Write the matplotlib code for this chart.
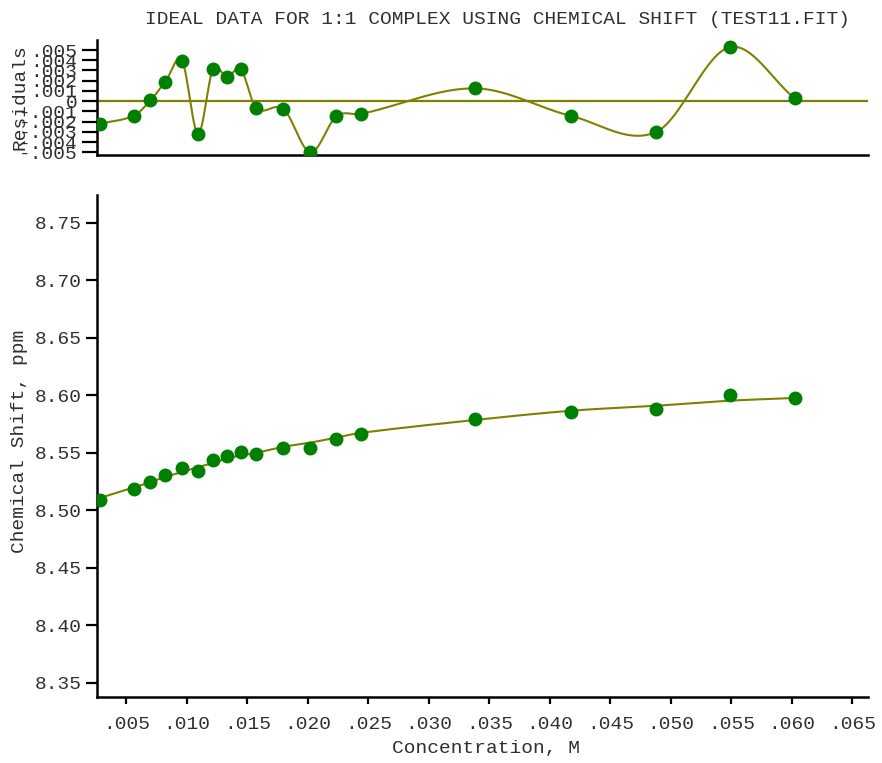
import numpy as np
import matplotlib
matplotlib.use("Agg")
import matplotlib.pyplot as plt

# Measured data: concentration (M), observed chemical shift (ppm), residuals (ppm)
conc = [0.00285, 0.00563, 0.00698, 0.00822, 0.00960, 0.01092, 0.01216,
        0.01331, 0.01445, 0.01571, 0.01798, 0.02021, 0.02236, 0.02436,
        0.03379, 0.04178, 0.04877, 0.05486, 0.06023]
shift = [8.5085, 8.5183, 8.5244, 8.5309, 8.5370, 8.5343, 8.5439,
         8.5474, 8.5505, 8.5491, 8.5543, 8.5537, 8.5616, 8.5659,
         8.5796, 8.5850, 8.5877, 8.6004, 8.5978]
resid = [-0.00219, -0.00141, 0.00007, 0.00190, 0.00396, -0.00318, 0.00315,
         0.00233, 0.00315, -0.00066, -0.00076, -0.00499, -0.00147, -0.00125,
         0.00125, -0.00145, -0.00302, 0.00528, 0.00029]

x_ticks = [0.005, 0.010, 0.015, 0.020, 0.025, 0.030, 0.035,
           0.040, 0.045, 0.050, 0.055, 0.060, 0.065]
x_ticklabels = [".005", ".010", ".015", ".020", ".025", ".030", ".035",
                ".040", ".045", ".050", ".055", ".060", ".065"]
y_ticks = [8.35, 8.40, 8.45, 8.50, 8.55, 8.60, 8.65, 8.70, 8.75]
r_ticks = [0.005, 0.004, 0.003, 0.002, 0.001, 0.0,
           -0.001, -0.002, -0.003, -0.004, -0.005]
r_ticklabels = [".005", ".004", ".003", ".002", ".001", "0",
                "-.001", "-.002", "-.003", "-.004", "-.005"]

TITLE = "IDEAL DATA FOR 1:1 COMPLEX USING CHEMICAL SHIFT (TEST11.FIT)"

GREEN = "#008000"
OLIVE = "#808000"
TXT = "#303030"
FONT = "Liberation Mono"
FS = 14


def smooth_curve(x, y, per_seg=60):
    """Cardinal (Catmull-Rom style) Hermite curve through (x, y)."""
    x = np.asarray(x, float)
    y = np.asarray(y, float)
    m = len(x)
    slope = np.empty(m)
    slope[0] = (y[1] - y[0]) / (x[1] - x[0])
    slope[-1] = (y[-1] - y[-2]) / (x[-1] - x[-2])
    slope[1:-1] = (y[2:] - y[:-2]) / (x[2:] - x[:-2])
    xs_all, ys_all = [], []
    for i in range(m - 1):
        h = x[i + 1] - x[i]
        t = np.linspace(0, 1, per_seg, endpoint=(i == m - 2))
        h00 = 2 * t ** 3 - 3 * t ** 2 + 1
        h10 = t ** 3 - 2 * t ** 2 + t
        h01 = -2 * t ** 3 + 3 * t ** 2
        h11 = t ** 3 - t ** 2
        xs_all.append(x[i] + t * h)
        ys_all.append(h00 * y[i] + h10 * h * slope[i]
                      + h01 * y[i + 1] + h11 * h * slope[i + 1])
    return np.concatenate(xs_all), np.concatenate(ys_all)


fit = np.asarray(shift) - np.asarray(resid)

fig = plt.figure(figsize=(8.82, 7.63), dpi=100)
fig.patch.set_facecolor("white")

W, H = 882.0, 763.0
ax_r = fig.add_axes([97 / W, 1 - 155 / H, (868 - 97) / W, (155 - 40) / H])
ax = fig.add_axes([97 / W, 1 - 697 / H, (868 - 97) / W, (697 - 195) / H])

xlim = (0.00257, 0.0663)

# Residuals panel
ax_r.axhline(0, color=OLIVE, lw=1.6, zorder=1)
xs, ys = smooth_curve(conc, resid)
ax_r.plot(xs, ys, color=OLIVE, lw=1.5, zorder=2)
ax_r.plot(conc, resid, "o", color=GREEN, ms=9, mec=GREEN, zorder=3)
ax_r.set_xlim(*xlim)
ax_r.set_ylim(-0.00526, 0.00598)
ax_r.set_xticks([])
ax_r.set_yticks(r_ticks)
ax_r.set_yticklabels(r_ticklabels, fontfamily=FONT, fontsize=FS, color=TXT)
ax_r.tick_params(axis="y", direction="out", length=11, width=1.6, pad=3)

# Chemical shift panel
xs, ys = smooth_curve(conc, fit)
ax.plot(xs, ys, color=OLIVE, lw=1.5, zorder=2)
ax.plot(conc, shift, "o", color=GREEN, ms=9, mec=GREEN, zorder=3)
ax.set_xlim(*xlim)
ax.set_ylim(8.3375, 8.774)
ax.set_xticks(x_ticks)
ax.set_xticklabels(x_ticklabels, fontfamily=FONT, fontsize=FS, color=TXT)
ax.set_yticks(y_ticks)
ax.set_yticklabels([f"{v:.2f}" for v in y_ticks], fontfamily=FONT,
                   fontsize=FS, color=TXT)
ax.tick_params(axis="y", direction="out", length=8, width=1.6, pad=3)
ax.tick_params(axis="x", direction="out", length=5, width=1.6, pad=9)

for a in (ax, ax_r):
    for side in ("top", "right"):
        a.spines[side].set_visible(False)
    for side in ("left", "bottom"):
        a.spines[side].set_linewidth(1.8)
        a.spines[side].set_color("black")
    a.set_facecolor("none")

fig.text(498 / W, 1 - 20 / H, TITLE, ha="center", va="center",
         fontfamily=FONT, fontsize=FS, color=TXT)
fig.text(20 / W, 1 - 97 / H, "Residuals", rotation=90, ha="center",
         va="center", fontfamily=FONT, fontsize=FS, color=TXT)
fig.text(20 / W, 1 - 441 / H, "Chemical Shift, ppm", rotation=90,
         ha="center", va="center", fontfamily=FONT, fontsize=FS, color=TXT)
fig.text(486 / W, 1 - 748 / H, "Concentration, M", ha="center", va="center",
         fontfamily=FONT, fontsize=FS, color=TXT)

fig.savefig("out.png", dpi=100, facecolor="white")
